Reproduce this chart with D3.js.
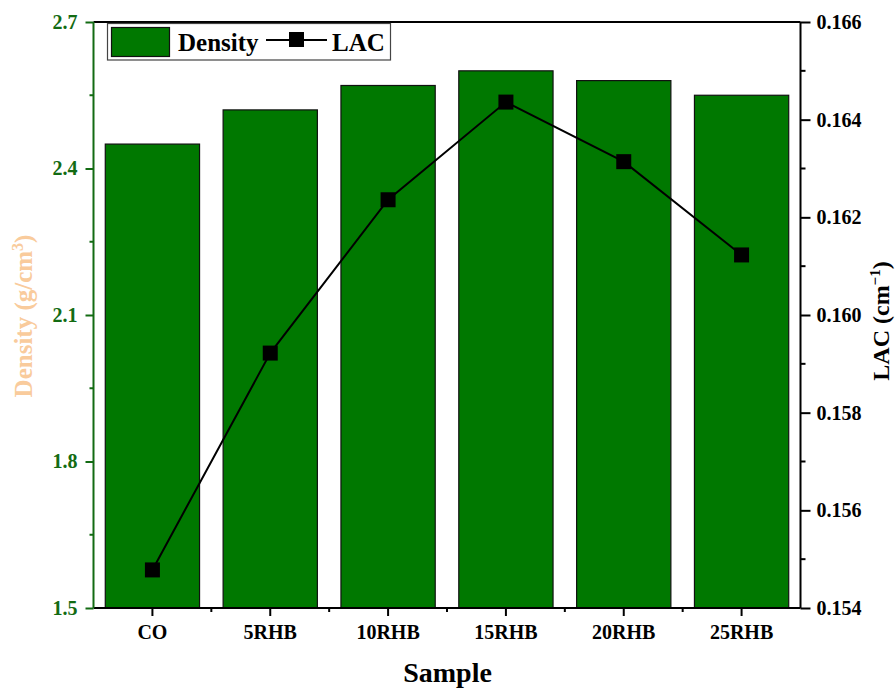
<!DOCTYPE html>
<html>
<head>
<meta charset="utf-8">
<script src="https://cdn.jsdelivr.net/npm/d3@7"></script>
<style>
  html, body { margin: 0; padding: 0; background: #fff; }
  svg { display: block; }
  text { font-family: "Liberation Serif", "Times New Roman", serif; font-weight: bold; }
</style>
</head>
<body>
<svg id="chart" width="895" height="689"></svg>
<script>
const categories = ["CO", "5RHB", "10RHB", "15RHB", "20RHB", "25RHB"];
const density = [2.45, 2.52, 2.57, 2.60, 2.58, 2.55];
const lac = [0.15478, 0.15922, 0.16236, 0.16436, 0.16314, 0.16123];
const leftTicks = [1.5, 1.8, 2.1, 2.4, 2.7];
const leftMinor = [1.65, 1.95, 2.25, 2.55];
const rightTicks = [0.154, 0.156, 0.158, 0.160, 0.162, 0.164, 0.166];
const rightMinor = [0.155, 0.157, 0.159, 0.161, 0.163, 0.165];

const barColor = "#007800";
const axisGreen = "#136b13";
const titlePeach = "#f9cb9c";

const svg = d3.select("#chart");
const L = 93.5, R = 800.5, T = 22, B = 608;

const x = d3.scaleBand().domain(categories).range([L, R]).paddingInner(0.2).paddingOuter(0.1);
const yL = d3.scaleLinear().domain([1.5, 2.7]).range([B, T]);
const yR = d3.scaleLinear().domain([0.154, 0.166]).range([B, T]);

// bars
svg.append("g").selectAll("rect").data(categories).join("rect")
  .attr("x", d => x(d))
  .attr("width", x.bandwidth())
  .attr("y", (d, i) => yL(density[i]))
  .attr("height", (d, i) => B - yL(density[i]))
  .attr("fill", barColor)
  .attr("stroke", "#111")
  .attr("stroke-width", 1.2);

// line
const pts = categories.map((c, i) => [x(c) + x.bandwidth() / 2, yR(lac[i])]);
svg.append("path")
  .attr("d", d3.line()(pts))
  .attr("fill", "none")
  .attr("stroke", "#000")
  .attr("stroke-width", 2);
const ms = 15;
svg.append("g").selectAll("rect").data(pts).join("rect")
  .attr("x", d => d[0] - ms / 2).attr("y", d => d[1] - ms / 2)
  .attr("width", ms).attr("height", ms).attr("fill", "#000");

// top frame
svg.append("line").attr("x1", L).attr("x2", R).attr("y1", T).attr("y2", T)
  .attr("stroke", "#000").attr("stroke-width", 2);

// bottom axis
const gx = svg.append("g").attr("transform", `translate(0,${B})`)
  .call(d3.axisBottom(x).tickSize(8).tickPadding(9));
gx.select(".domain").attr("stroke", "#000").attr("stroke-width", 2).attr("d", `M${L},0H${R}`);
gx.selectAll(".tick line").attr("stroke", "#000").attr("stroke-width", 2);
gx.selectAll(".tick text").attr("fill", "#000").style("font-size", "20px")
  .style("font-family", "Liberation Serif").style("font-weight", "bold");
const step = x.step();
const bounds = d3.range(1, categories.length).map(k => L + k * step);
svg.append("g").selectAll("line").data(bounds).join("line")
  .attr("x1", d => d).attr("x2", d => d).attr("y1", B).attr("y2", B + 4)
  .attr("stroke", "#000").attr("stroke-width", 2);

// left axis
const gl = svg.append("g").attr("transform", `translate(${L},0)`)
  .call(d3.axisLeft(yL).tickValues(leftTicks).tickFormat(d3.format(".1f")).tickSize(8).tickPadding(8));
gl.select(".domain").attr("stroke", axisGreen).attr("stroke-width", 2).attr("d", `M0,${B}V${T}`);
gl.selectAll(".tick line").attr("stroke", axisGreen).attr("stroke-width", 2);
gl.selectAll(".tick text").attr("fill", axisGreen).style("font-size", "20px")
  .style("font-family", "Liberation Serif").style("font-weight", "bold");
svg.append("g").selectAll("line").data(leftMinor).join("line")
  .attr("x1", L).attr("x2", L - 4).attr("y1", d => yL(d)).attr("y2", d => yL(d))
  .attr("stroke", axisGreen).attr("stroke-width", 2);

// right axis
const gr = svg.append("g").attr("transform", `translate(${R},0)`)
  .call(d3.axisRight(yR).tickValues(rightTicks).tickFormat(d3.format(".3f")).tickSize(10).tickPadding(6));
gr.select(".domain").attr("stroke", "#000").attr("stroke-width", 2).attr("d", `M0,${B}V${T}`);
gr.selectAll(".tick line").attr("stroke", "#000").attr("stroke-width", 2);
gr.selectAll(".tick text").attr("fill", "#000").style("font-size", "20px")
  .style("font-family", "Liberation Serif").style("font-weight", "bold");
svg.append("g").selectAll("line").data(rightMinor).join("line")
  .attr("x1", R).attr("x2", R + 5).attr("y1", d => yR(d)).attr("y2", d => yR(d))
  .attr("stroke", "#000").attr("stroke-width", 2);

// axis titles
svg.append("text").attr("x", (L + R) / 2 + 0.5).attr("y", 682)
  .attr("text-anchor", "middle").style("font-size", "28px").attr("fill", "#000").text("Sample");

const lt = svg.append("text")
  .attr("transform", `translate(32,316) rotate(-90)`)
  .attr("text-anchor", "middle").style("font-size", "25px").attr("fill", titlePeach);
lt.append("tspan").text("Density (g/cm");
lt.append("tspan").attr("dy", -9).style("font-size", "16px").text("3");
lt.append("tspan").attr("dy", 9).text(")");

const rt = svg.append("text")
  .attr("transform", `translate(889,321) rotate(-90)`)
  .attr("text-anchor", "middle").style("font-size", "24px").attr("fill", "#000");
rt.append("tspan").text("LAC (cm");
rt.append("tspan").attr("dy", -9).style("font-size", "15px").text("\u22121");
rt.append("tspan").attr("dy", 9).text(")");

// legend
const lg = svg.append("g");
lg.append("rect").attr("x", 107.5).attr("y", 23.5).attr("width", 283).attr("height", 36.5)
  .attr("fill", "#fff").attr("stroke", "#444").attr("stroke-width", 1.2);
lg.append("rect").attr("x", 111.5).attr("y", 27.5).attr("width", 58).attr("height", 29)
  .attr("fill", barColor).attr("stroke", "#111").attr("stroke-width", 1.2);
lg.append("text").attr("x", 178).attr("y", 51).style("font-size", "25px").attr("fill", "#000").text("Density");
lg.append("line").attr("x1", 266).attr("x2", 327).attr("y1", 40).attr("y2", 40)
  .attr("stroke", "#000").attr("stroke-width", 2);
lg.append("rect").attr("x", 289).attr("y", 32).attr("width", 15).attr("height", 15).attr("fill", "#000");
lg.append("text").attr("x", 332).attr("y", 51).style("font-size", "25px").attr("fill", "#000").text("LAC");
</script>
</body>
</html>
